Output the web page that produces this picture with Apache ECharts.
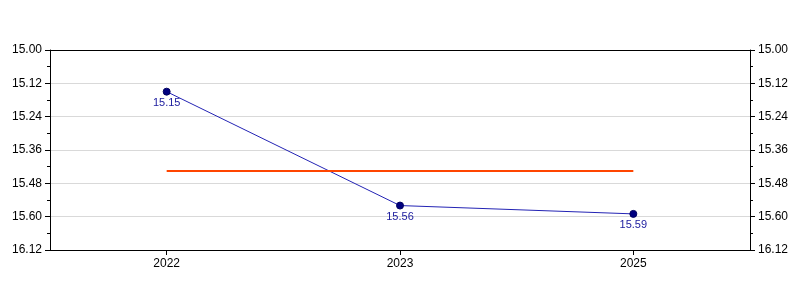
<!DOCTYPE html>
<html>
<head>
<meta charset="utf-8">
<script src="https://cdn.jsdelivr.net/npm/echarts@6/dist/echarts.min.js"></script>
<style>html,body{margin:0;padding:0;background:#fff}#c{width:800px;height:300px}</style>
</head>
<body>
<div id="c"></div>
<script>
var categories = ["2022", "2023", "2025"];
var values = [15.15, 15.56, 15.59];
var tickLabels = ["15.00", "15.12", "15.24", "15.36", "15.48", "15.60", "16.12"];
var axisMin = 15.00, axisMax = 15.72, axisStep = 0.12;

var mean = values.reduce(function (a, b) { return a + b; }, 0) / values.length;

var font = "Liberation Sans, Arial, sans-serif";
function yAx(pos, split) {
  return {
    type: 'value', position: pos, inverse: true,
    min: axisMin, max: axisMax, interval: axisStep,
    axisLine: { show: true, lineStyle: { color: '#000', width: 1 } },
    axisTick: { show: true, length: 5, lineStyle: { color: '#000' } },
    minorTick: { show: true, splitNumber: 2, length: 3, lineStyle: { color: '#000' } },
    axisLabel: {
      color: '#000', fontSize: 12, fontFamily: font, margin: 8,
      formatter: function (v, i) { return tickLabels[i]; }
    },
    splitLine: { show: split, lineStyle: { color: '#d9d9d9', width: 1 } },
    minorSplitLine: { show: false }
  };
}
var chart = echarts.init(document.getElementById('c'), null, { renderer: 'canvas' });
chart.setOption({
  animation: false,
  grid: { left: 50, right: 50, top: 50, bottom: 50, containLabel: false },
  xAxis: [{
    type: 'category', data: categories, boundaryGap: true, position: 'bottom',
    axisLine: { show: true, lineStyle: { color: '#000', width: 1 } },
    axisTick: { show: true, alignWithLabel: true, length: 5, lineStyle: { color: '#000' } },
    axisLabel: { color: '#000', fontSize: 12, fontFamily: font, margin: 8 },
    splitLine: { show: false }
  }, {
    type: 'category', data: categories, position: 'top',
    axisLine: { show: true, lineStyle: { color: '#000', width: 1 } },
    axisTick: { show: false }, axisLabel: { show: false }, splitLine: { show: false }
  }],
  yAxis: [yAx('left', true), yAx('right', false)],
  series: [{
    type: 'line', data: values, xAxisIndex: 0, yAxisIndex: 0,
    symbol: 'circle', symbolSize: 7,
    lineStyle: { color: '#2323b4', width: 1 },
    itemStyle: { color: '#000080', borderColor: '#000060', borderWidth: 1 },
    label: {
      show: true, position: 'bottom', distance: 2, color: '#2020a0',
      fontSize: 11, fontFamily: font,
      formatter: function (p) { return p.value.toFixed(2); }
    },
    markLine: {
      silent: true, symbol: 'none',
      label: { show: false },
      lineStyle: { color: '#ff4500', width: 2, type: 'solid' },
      data: [[
        { coord: [categories[0], mean] },
        { coord: [categories[categories.length - 1], mean] }
      ]]
    }
  }]
});
</script>
</body>
</html>
